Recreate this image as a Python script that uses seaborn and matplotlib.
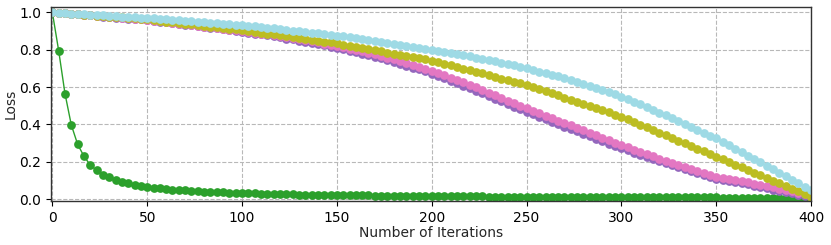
import numpy as np
import pandas as pd
import matplotlib
matplotlib.use("Agg")
import matplotlib.pyplot as plt
import seaborn as sns

# iteration positions of the plotted samples (121 samples over 0..400)
iterations = np.linspace(0, 400, 121)

green = [1.000, 0.795, 0.565, 0.397, 0.294, 0.230, 0.183, 0.155, 0.132, 0.118,
         0.104, 0.093, 0.085, 0.078, 0.071, 0.066, 0.062, 0.058, 0.055, 0.052,
         0.050, 0.047, 0.045, 0.043, 0.041, 0.040, 0.038, 0.037, 0.035, 0.034,
         0.033, 0.032, 0.031, 0.030, 0.029, 0.028, 0.028, 0.027, 0.026, 0.025,
         0.025, 0.024, 0.024, 0.023, 0.023, 0.022, 0.022, 0.021, 0.021, 0.020,
         0.020, 0.019, 0.019, 0.019, 0.018, 0.018, 0.018, 0.017, 0.017, 0.017,
         0.017, 0.016, 0.016, 0.016, 0.015, 0.015, 0.015, 0.015, 0.015, 0.014,
         0.014, 0.014, 0.014, 0.014, 0.013, 0.013, 0.013, 0.013, 0.013, 0.013,
         0.012, 0.012, 0.012, 0.012, 0.012, 0.012, 0.012, 0.011, 0.011, 0.011,
         0.011, 0.011, 0.011, 0.011, 0.011, 0.010, 0.010, 0.010, 0.010, 0.010,
         0.010, 0.010, 0.010, 0.010, 0.010, 0.010, 0.009, 0.009, 0.009, 0.009,
         0.009, 0.009, 0.009, 0.009, 0.009, 0.009, 0.008, 0.008, 0.008, 0.008,
         0.008]

purple = [1.000, 0.997, 0.995, 0.992, 0.989, 0.987, 0.984, 0.981, 0.978, 0.975,
          0.972, 0.970, 0.967, 0.964, 0.962, 0.959, 0.955, 0.951, 0.947, 0.943,
          0.938, 0.934, 0.930, 0.926, 0.922, 0.918, 0.914, 0.910, 0.905, 0.901,
          0.897, 0.892, 0.887, 0.882, 0.877, 0.871, 0.866, 0.860, 0.855, 0.849,
          0.843, 0.836, 0.830, 0.824, 0.817, 0.810, 0.803, 0.795, 0.788, 0.779,
          0.771, 0.762, 0.754, 0.745, 0.735, 0.726, 0.715, 0.705, 0.695, 0.684,
          0.672, 0.660, 0.648, 0.635, 0.621, 0.608, 0.595, 0.581, 0.566, 0.552,
          0.538, 0.524, 0.510, 0.496, 0.482, 0.468, 0.455, 0.442, 0.429, 0.415,
          0.402, 0.389, 0.376, 0.363, 0.350, 0.338, 0.325, 0.312, 0.298, 0.285,
          0.272, 0.261, 0.248, 0.237, 0.225, 0.214, 0.202, 0.192, 0.181, 0.171,
          0.160, 0.150, 0.140, 0.130, 0.120, 0.110, 0.104, 0.097, 0.091, 0.085,
          0.079, 0.072, 0.066, 0.059, 0.052, 0.045, 0.038, 0.031, 0.024, 0.017,
          0.010]

pink = [1.000, 0.997, 0.995, 0.992, 0.989, 0.987, 0.984, 0.981, 0.979, 0.976,
        0.973, 0.971, 0.968, 0.965, 0.963, 0.960, 0.956, 0.952, 0.948, 0.944,
        0.940, 0.936, 0.932, 0.928, 0.924, 0.920, 0.916, 0.912, 0.908, 0.904,
        0.900, 0.896, 0.891, 0.887, 0.882, 0.877, 0.872, 0.867, 0.862, 0.857,
        0.851, 0.845, 0.839, 0.833, 0.827, 0.820, 0.813, 0.806, 0.799, 0.791,
        0.783, 0.775, 0.767, 0.758, 0.749, 0.740, 0.730, 0.720, 0.710, 0.699,
        0.688, 0.676, 0.664, 0.651, 0.638, 0.625, 0.612, 0.598, 0.584, 0.570,
        0.556, 0.542, 0.528, 0.514, 0.501, 0.487, 0.474, 0.461, 0.448, 0.434,
        0.421, 0.408, 0.395, 0.382, 0.369, 0.356, 0.343, 0.330, 0.316, 0.303,
        0.290, 0.278, 0.265, 0.253, 0.241, 0.229, 0.217, 0.206, 0.195, 0.184,
        0.173, 0.162, 0.152, 0.141, 0.131, 0.121, 0.115, 0.108, 0.102, 0.096,
        0.090, 0.083, 0.077, 0.070, 0.063, 0.056, 0.049, 0.042, 0.035, 0.027,
        0.020]

olive = [1.000, 0.998, 0.995, 0.993, 0.990, 0.988, 0.985, 0.983, 0.980, 0.978,
         0.975, 0.973, 0.970, 0.968, 0.965, 0.963, 0.959, 0.955, 0.951, 0.947,
         0.943, 0.940, 0.936, 0.932, 0.928, 0.924, 0.920, 0.917, 0.913, 0.909,
         0.905, 0.900, 0.896, 0.891, 0.886, 0.882, 0.877, 0.872, 0.867, 0.863,
         0.858, 0.853, 0.848, 0.844, 0.839, 0.834, 0.828, 0.822, 0.816, 0.810,
         0.804, 0.797, 0.791, 0.785, 0.779, 0.773, 0.767, 0.761, 0.754, 0.748,
         0.742, 0.734, 0.726, 0.717, 0.708, 0.699, 0.690, 0.681, 0.673, 0.664,
         0.655, 0.646, 0.638, 0.629, 0.621, 0.612, 0.601, 0.590, 0.578, 0.567,
         0.556, 0.544, 0.533, 0.521, 0.510, 0.499, 0.488, 0.476, 0.465, 0.453,
         0.442, 0.428, 0.413, 0.399, 0.385, 0.371, 0.356, 0.342, 0.328, 0.314,
         0.299, 0.285, 0.271, 0.257, 0.242, 0.228, 0.214, 0.199, 0.185, 0.171,
         0.157, 0.142, 0.128, 0.114, 0.100, 0.085, 0.071, 0.057, 0.043, 0.028,
         0.014]

cyan = [1.000, 0.998, 0.996, 0.994, 0.992, 0.990, 0.988, 0.986, 0.984, 0.982,
        0.980, 0.978, 0.976, 0.974, 0.972, 0.971, 0.968, 0.966, 0.963, 0.960,
        0.958, 0.955, 0.953, 0.950, 0.947, 0.945, 0.942, 0.939, 0.937, 0.934,
        0.932, 0.929, 0.925, 0.922, 0.918, 0.914, 0.911, 0.907, 0.903, 0.899,
        0.895, 0.891, 0.888, 0.884, 0.880, 0.876, 0.871, 0.866, 0.861, 0.856,
        0.851, 0.846, 0.841, 0.836, 0.831, 0.826, 0.821, 0.816, 0.811, 0.805,
        0.800, 0.795, 0.789, 0.783, 0.777, 0.771, 0.765, 0.758, 0.752, 0.745,
        0.738, 0.731, 0.724, 0.716, 0.708, 0.700, 0.692, 0.683, 0.675, 0.666,
        0.657, 0.648, 0.638, 0.628, 0.618, 0.607, 0.596, 0.585, 0.573, 0.561,
        0.549, 0.536, 0.522, 0.508, 0.494, 0.479, 0.464, 0.449, 0.434, 0.419,
        0.403, 0.387, 0.371, 0.355, 0.341, 0.326, 0.308, 0.290, 0.271, 0.253,
        0.234, 0.216, 0.197, 0.179, 0.160, 0.142, 0.123, 0.105, 0.087, 0.068,
        0.050]

series_names = ["green", "purple", "pink", "olive", "cyan"]
series_values = [green, purple, pink, olive, cyan]
colors = ["#2ca02c", "#9467bd", "#e377c2", "#bcbd22", "#9edae5"]

x_ticks = [0, 50, 100, 150, 200, 250, 300, 350, 400]
y_ticks = [0.0, 0.2, 0.4, 0.6, 0.8, 1.0]

frames = []
for name, vals in zip(series_names, series_values):
    frames.append(pd.DataFrame({"iter": iterations, "loss": vals, "series": name}))
df = pd.concat(frames, ignore_index=True)

sns.set_style("ticks")
plt.rcParams["font.family"] = ["DejaVu Sans"]

fig = plt.figure(figsize=(8.31, 2.45), dpi=100)
ax = fig.add_axes([0.0614, 0.180, 0.976 - 0.0614, 0.970 - 0.180])

sns.lineplot(data=df, x="iter", y="loss", hue="series", hue_order=series_names,
             palette=dict(zip(series_names, colors)), marker="o", markersize=6.3,
             markeredgewidth=0, linewidth=1.0, sort=False, legend=False,
             estimator=None, ax=ax)

ax.set_xlim(-0.7, 400)
ax.set_ylim(-0.009, 1.027)
ax.set_xticks(x_ticks)
ax.set_yticks(y_ticks)
ax.set_yticklabels([f"{v:.1f}" for v in y_ticks])
ax.grid(True, linestyle="--", color="#b8b8b8", linewidth=0.8)
ax.set_axisbelow(True)
for s in ax.spines.values():
    s.set_visible(True)
    s.set_color("#333333")
    s.set_linewidth(1.0)
ax.tick_params(axis="both", labelsize=10, length=3.5, width=0.8, colors="black")
ax.set_xlabel("Number of Iterations", fontsize=10, labelpad=1)
ax.set_ylabel("Loss", fontsize=10, labelpad=1)

fig.savefig("out.png", dpi=100)
